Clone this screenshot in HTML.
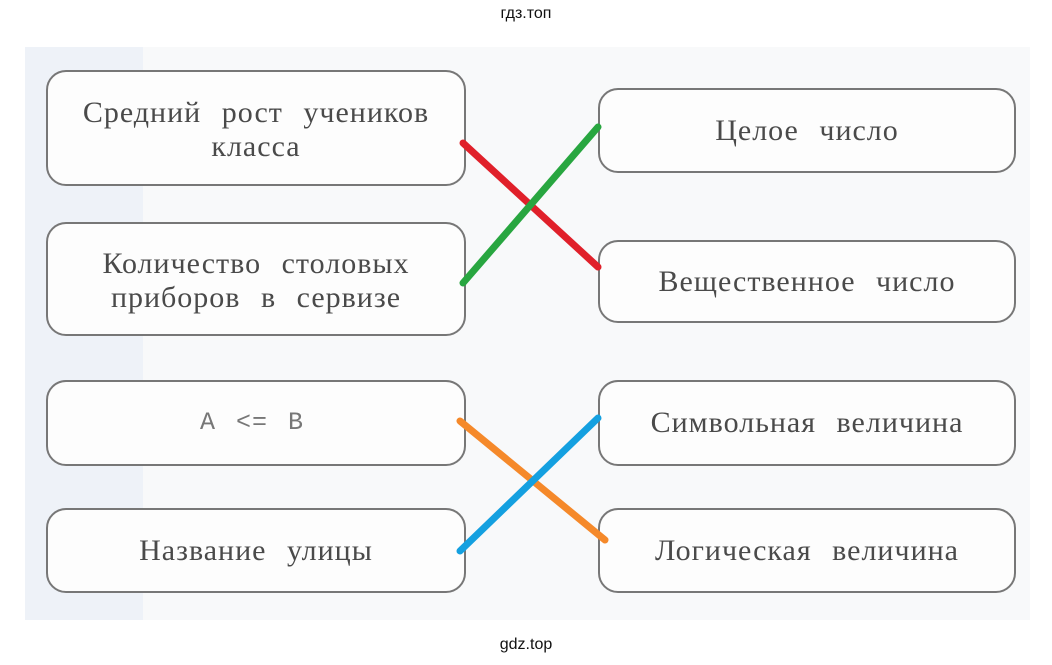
<!DOCTYPE html>
<html><head><meta charset="utf-8"><style>
body{margin:0;width:1052px;height:665px;background:#fff;position:relative;overflow:hidden;font-family:"Liberation Serif","Noto Serif CJK SC",serif}
.t{position:absolute;left:0;width:1052px;text-align:center;font-family:"Liberation Sans",sans-serif;font-size:16px;color:#111}
.bg{position:absolute;left:25px;top:47px;width:1005px;height:573px;background:#f8f9fa}
.strip{position:absolute;left:25px;top:47px;width:118px;height:573px;background:#eef2f8}
.b{position:absolute;border:2px solid #777;border-radius:20px;background:#fdfdfd;display:flex;align-items:center;justify-content:center;text-align:center;color:#4a4a4a;font-size:30px;line-height:34px;letter-spacing:1px;word-spacing:12px;box-sizing:border-box}
svg{position:absolute;left:0;top:0}
</style></head><body>
<div class="t" style="top:5px">гдз.топ</div>
<div class="bg"></div><div class="strip"></div>
<div class="b" style="left:46px;top:70px;width:420px;height:116px;padding-top:4px">Средний рост учеников<br>класса</div>
<div class="b" style="left:46px;top:222px;width:420px;height:114px;padding-top:4px">Количество столовых<br>приборов в сервизе</div>
<div class="b" style="left:598px;top:88px;width:418px;height:85px">Целое число</div>
<div class="b" style="left:598px;top:240px;width:418px;height:83px">Вещественное число</div>
<div class="b" style="left:46px;top:380px;width:420px;height:86px;justify-content:flex-start;padding-left:152px;font-family:'Liberation Mono',monospace;font-size:25px;color:#777;letter-spacing:1px;word-spacing:4px">A &lt;= B</div>
<div class="b" style="left:46px;top:508px;width:420px;height:85px">Название улицы</div>
<div class="b" style="left:598px;top:380px;width:418px;height:86px">Символьная величина</div>
<div class="b" style="left:598px;top:508px;width:418px;height:85px">Логическая величина</div>
<svg width="1052" height="665">
<line x1="463" y1="143" x2="598" y2="267" stroke="#e0202a" stroke-width="7" stroke-linecap="round"/>
<line x1="463" y1="283" x2="598" y2="127" stroke="#28a640" stroke-width="7" stroke-linecap="round"/>
<line x1="460" y1="421" x2="605" y2="540" stroke="#f5892a" stroke-width="7" stroke-linecap="round"/>
<line x1="460" y1="551" x2="598" y2="418" stroke="#14a0e0" stroke-width="7" stroke-linecap="round"/>
</svg>
<div class="t" style="top:636px">gdz.top</div>
</body></html>
